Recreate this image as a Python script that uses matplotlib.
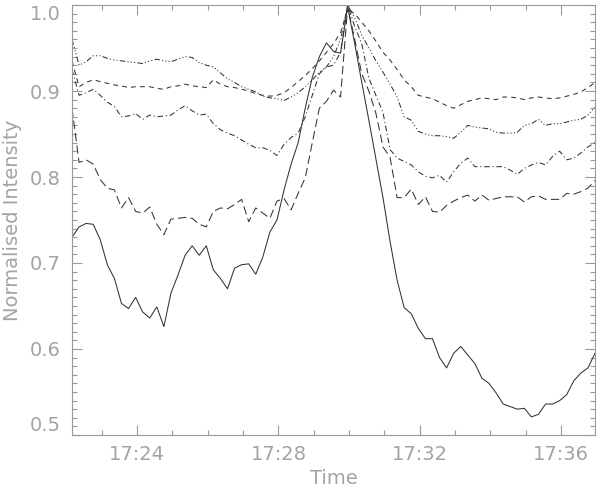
import numpy as np
import matplotlib
matplotlib.use('Agg')
import matplotlib.pyplot as plt
from matplotlib.ticker import MultipleLocator, FixedLocator

# time in minutes after 17:00, ~12 s cadence
t_start = 22.16
t_step = 0.2
n_pts = 75
times = t_start + t_step * np.arange(n_pts)

solid = [0.730, 0.742, 0.746, 0.745, 0.727, 0.698, 0.682, 0.653, 0.647, 0.660,
         0.643, 0.636, 0.649, 0.626, 0.665, 0.686, 0.709, 0.720, 0.709, 0.720,
         0.692, 0.682, 0.670, 0.694, 0.698, 0.699, 0.687, 0.707, 0.736, 0.750,
         0.785, 0.815, 0.840, 0.880, 0.916, 0.940, 0.956, 0.946, 0.944, 0.998,
         0.955, 0.910, 0.866, 0.821, 0.776, 0.725, 0.680, 0.648, 0.641, 0.624,
         0.612, 0.612, 0.590, 0.578, 0.595, 0.603, 0.593, 0.583, 0.566, 0.560,
         0.549, 0.536, 0.533, 0.530, 0.531, 0.521, 0.524, 0.536, 0.536, 0.540,
         0.547, 0.563, 0.572, 0.578, 0.595]

long_dash = [0.880, 0.817, 0.820, 0.815, 0.797, 0.787, 0.785, 0.764, 0.776, 0.760,
             0.758, 0.765, 0.745, 0.733, 0.751, 0.752, 0.753, 0.752, 0.745, 0.742,
             0.760, 0.764, 0.763, 0.768, 0.774, 0.748, 0.764, 0.758, 0.752, 0.772,
             0.775, 0.762, 0.781, 0.799, 0.840, 0.880, 0.888, 0.901, 0.893, 0.998,
             0.960, 0.920, 0.900, 0.874, 0.835, 0.823, 0.776, 0.776, 0.786, 0.768,
             0.777, 0.760, 0.759, 0.767, 0.772, 0.776, 0.779, 0.772, 0.779, 0.773,
             0.775, 0.777, 0.777, 0.777, 0.771, 0.777, 0.778, 0.774, 0.774, 0.774,
             0.781, 0.780, 0.783, 0.787, 0.796]

dash_dot = [0.925, 0.895, 0.898, 0.902, 0.895, 0.887, 0.882, 0.870, 0.871, 0.874,
            0.867, 0.872, 0.870, 0.871, 0.872, 0.878, 0.883, 0.877, 0.872, 0.873,
            0.862, 0.855, 0.851, 0.848, 0.843, 0.838, 0.834, 0.834, 0.831, 0.825,
            0.838, 0.846, 0.851, 0.870, 0.895, 0.920, 0.928, 0.930, 0.945, 1.000,
            0.975, 0.955, 0.915, 0.895, 0.875, 0.832, 0.822, 0.818, 0.814, 0.806,
            0.801, 0.799, 0.802, 0.794, 0.806, 0.816, 0.822, 0.812, 0.812, 0.812,
            0.812, 0.812, 0.808, 0.803, 0.810, 0.814, 0.817, 0.814, 0.824, 0.830,
            0.820, 0.822, 0.828, 0.835, 0.840]

dashed = [0.935, 0.905, 0.910, 0.913, 0.911, 0.909, 0.907, 0.906, 0.904, 0.905,
          0.905, 0.905, 0.903, 0.902, 0.905, 0.906, 0.908, 0.906, 0.905, 0.904,
          0.913, 0.908, 0.905, 0.904, 0.902, 0.900, 0.897, 0.895, 0.894, 0.895,
          0.898, 0.904, 0.911, 0.918, 0.926, 0.935, 0.945, 0.955, 0.968, 0.995,
          0.990, 0.980, 0.970, 0.958, 0.945, 0.936, 0.925, 0.913, 0.905, 0.895,
          0.893, 0.891, 0.887, 0.883, 0.880, 0.884, 0.888, 0.890, 0.892, 0.891,
          0.890, 0.893, 0.893, 0.892, 0.890, 0.892, 0.893, 0.892, 0.891, 0.892,
          0.894, 0.896, 0.899, 0.904, 0.910]

dash_3dot = [0.960, 0.930, 0.934, 0.941, 0.941, 0.938, 0.936, 0.935, 0.934, 0.933,
             0.932, 0.935, 0.937, 0.935, 0.934, 0.937, 0.940, 0.939, 0.933, 0.930,
             0.928, 0.921, 0.914, 0.910, 0.905, 0.902, 0.899, 0.894, 0.892, 0.891,
             0.889, 0.893, 0.898, 0.905, 0.913, 0.922, 0.928, 0.940, 0.960, 1.000,
             0.985, 0.965, 0.950, 0.935, 0.922, 0.908, 0.893, 0.870, 0.866, 0.853,
             0.850, 0.848, 0.848, 0.847, 0.845, 0.852, 0.860, 0.858, 0.857, 0.856,
             0.852, 0.851, 0.851, 0.852, 0.860, 0.862, 0.867, 0.860, 0.862, 0.862,
             0.864, 0.866, 0.867, 0.872, 0.881]

tick_pos = [24, 28, 32, 36]
tick_labels = ['17:24', '17:28', '17:32', '17:36']

plt.rcParams['lines.scale_dashes'] = False
axis_col = '#999999'
text_col = '#a3a3a3'
line_col = '#333333'

fig = plt.figure(figsize=(6, 4.92), dpi=100)
ax = fig.add_axes([0.12, 0.1159, 0.8717, 0.8739])

lw = 0.75
ax.plot(times, solid, color=line_col, lw=lw, ls='-')
ax.plot(times, long_dash, color=line_col, lw=lw, ls=(0, (6, 3)))
ax.plot(times, dash_dot, color=line_col, lw=lw, ls=(0, (4, 2, 0.8, 2)))
ax.plot(times, dashed, color=line_col, lw=lw, ls=(0, (3.5, 3)))
ax.plot(times, dash_3dot, color=line_col, lw=lw, ls=(0, (4, 1.6, 0.8, 1.6, 0.8, 1.6, 0.8, 1.6)))

ax.set_xlim(22.16, 36.96)
ax.set_ylim(0.5, 1.0)

ax.xaxis.set_major_locator(FixedLocator(tick_pos))
ax.set_xticklabels(tick_labels)
ax.xaxis.set_minor_locator(MultipleLocator(1))
ax.yaxis.set_major_locator(FixedLocator([0.5, 0.6, 0.7, 0.8, 0.9, 1.0]))
ax.set_yticklabels(['0.5', '0.6', '0.7', '0.8', '0.9', '1.0'])
ax.yaxis.set_minor_locator(MultipleLocator(0.01))

ax.tick_params(which='both', direction='in', top=True, right=True, color=axis_col,
               labelcolor=text_col, labelsize=14, width=0.8)
ax.tick_params(which='major', length=7)
ax.tick_params(axis='x', which='major', pad=7)
ax.tick_params(axis='y', which='major', pad=8)
ax.tick_params(which='minor', length=3.5)
ylabs = ax.get_yticklabels()
ylabs[0].set_va('bottom')
ylabs[-1].set_va('top')
for s in ax.spines.values():
    s.set_color(axis_col)
    s.set_linewidth(0.8)

ax.set_xlabel('Time', color=text_col, fontsize=14, labelpad=4)
ax.set_ylabel('Normalised Intensity', color=text_col, fontsize=14, labelpad=6)

fig.savefig('out.png', dpi=100)
